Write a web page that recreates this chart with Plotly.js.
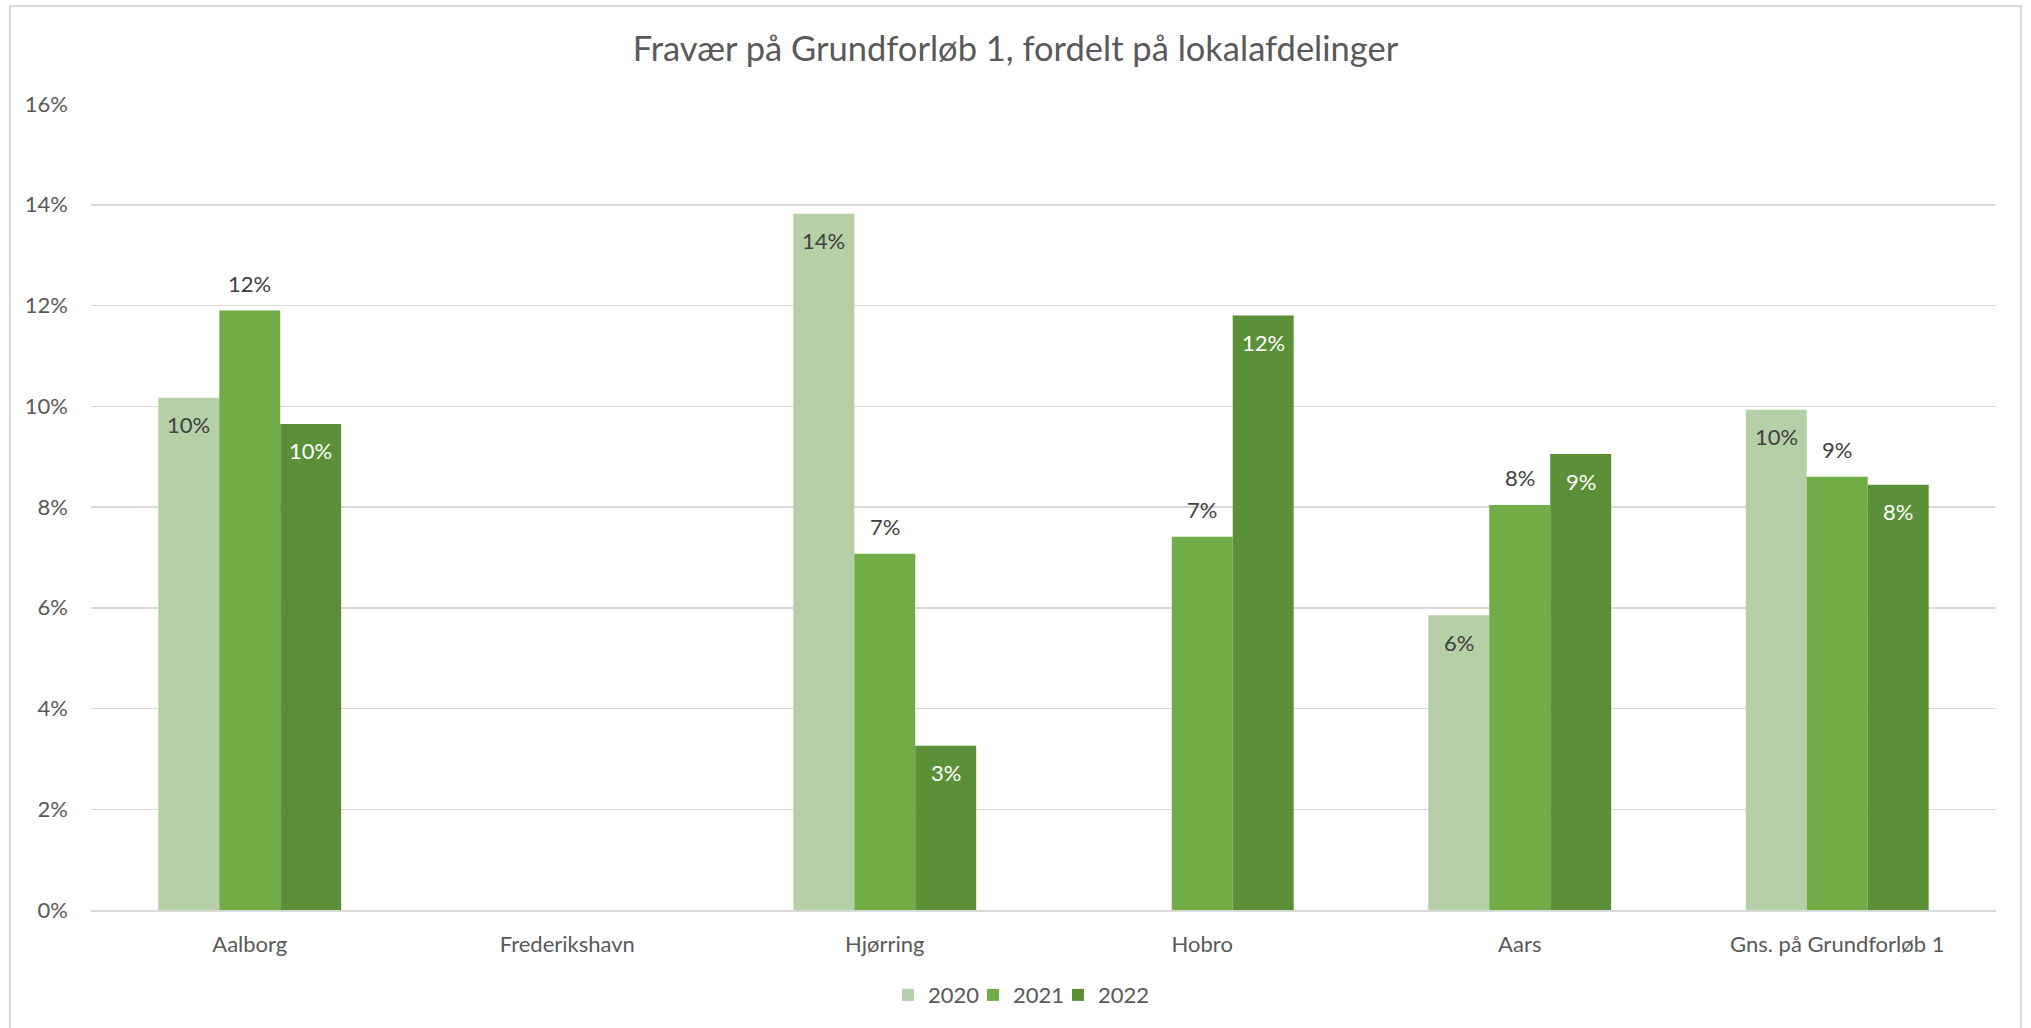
<!DOCTYPE html>
<html>
<head>
<meta charset="utf-8">
<script src="https://cdn.plot.ly/plotly-3.0.1.min.js"></script>
<style>
  html, body { margin: 0; padding: 0; background: #fff; }
  #chart { position: absolute; left: 0; top: 0; width: 2031px; height: 1028px; }
  #frame { position: absolute; left: 9px; top: 5px; width: 2013px; height: 1040px;
           border: 2px solid #D9D9D9; pointer-events: none; box-sizing: border-box; }
</style>
</head>
<body>
<div id="chart"></div>
<div id="frame"></div>
<script>
const categories = ["Aalborg", "Frederikshavn", "Hjørring", "Hobro", "Aars", "Gns. på Grundforløb 1"];
const seriesNames = ["2020", "2021", "2022"];
const values2020 = [0.1017, null, 0.1382, null, 0.0585, 0.0993];
const values2021 = [0.1190, null, 0.0707, 0.0741, 0.0804, 0.0860];
const values2022 = [0.0965, null, 0.0326, 0.1180, 0.0905, 0.0844];
const yTickVals = [0, 0.02, 0.04, 0.06, 0.08, 0.10, 0.12, 0.14, 0.16];

const colors = ["#B5CFA7", "#70AD47", "#5B9038"];
const labelColors = ["#404040", "#404040", "#FFFFFF"];
const labelInside = [true, false, true];
const FONT = "Lato, 'Noto Sans', sans-serif";

const W = 2031, H = 1028;
const M = { l: 91, r: 35, t: 104, b: 118 };
const BARGAP = 0.424;

const allSeries = [values2020, values2021, values2022];

const data = allSeries.map((vals, i) => ({
  type: "bar", name: seriesNames[i], x: categories, y: vals,
  marker: { color: colors[i] },
  hoverinfo: "skip"
}));

// data labels placed with the axes' own scales, offset like Excel's label positions
const plotW = W - M.l - M.r;
const barW = plotW / categories.length * (1 - BARGAP) / allSeries.length;
const annotations = [];
allSeries.forEach((vals, i) => {
  vals.forEach((v, j) => {
    if (v === null) return;
    annotations.push({
      xref: "x", yref: "y", x: categories[j], y: v,
      xshift: (i - (allSeries.length - 1) / 2) * barW,
      yshift: labelInside[i] ? -27 : 27,
      yanchor: "middle", xanchor: "center",
      text: Math.round(v * 100) + "%",
      showarrow: false,
      font: { family: FONT, size: 22, color: labelColors[i] }
    });
  });
});

const layout = {
  width: W, height: H,
  paper_bgcolor: "rgba(0,0,0,0)", plot_bgcolor: "rgba(0,0,0,0)",
  margin: M,
  barmode: "group", bargap: BARGAP, bargroupgap: 0,
  font: { family: FONT, color: "#595959" },
  title: {
    text: "Fravær på Grundforløb 1, fordelt på lokalafdelinger",
    font: { family: FONT, size: 34.5, color: "#595959" },
    xref: "container", x: 0.5, xanchor: "center",
    yref: "container", y: 0.952, yanchor: "middle"
  },
  xaxis: {
    type: "category",
    tickfont: { family: FONT, size: 22, color: "#595959" },
    showgrid: false, ticks: "", showline: true, linecolor: "#D9D9D9", linewidth: 2,
    ticklabelstandoff: 14
  },
  yaxis: {
    range: [0, 0.16], tickvals: yTickVals, tickformat: ".0%",
    tickfont: { family: FONT, size: 22, color: "#595959" },
    showgrid: true, gridcolor: "#D9D9D9", gridwidth: 1.5,
    zeroline: false, showline: false, ticks: "",
    ticklabelstandoff: 22
  },
  annotations: annotations,
  showlegend: true,
  legend: {
    orientation: "h",
    xref: "container", x: 0.5, xanchor: "center",
    yref: "container", y: 0.032, yanchor: "middle",
    font: { family: FONT, size: 22, color: "#595959" },
    itemwidth: 30, entrywidth: 40, entrywidthmode: "pixels", traceorder: "normal"
  }
};

Plotly.newPlot("chart", data, layout, { displayModeBar: false, staticPlot: true }).then(gd => {
  // let the last legend label show in full (entries are packed tightly like Excel's legend)
  gd.querySelectorAll(".legend .scrollbox, .legend").forEach(el => el.removeAttribute("clip-path"));
  gd.querySelectorAll(".legend [clip-path]").forEach(el => el.removeAttribute("clip-path"));
});
</script>
</body>
</html>
